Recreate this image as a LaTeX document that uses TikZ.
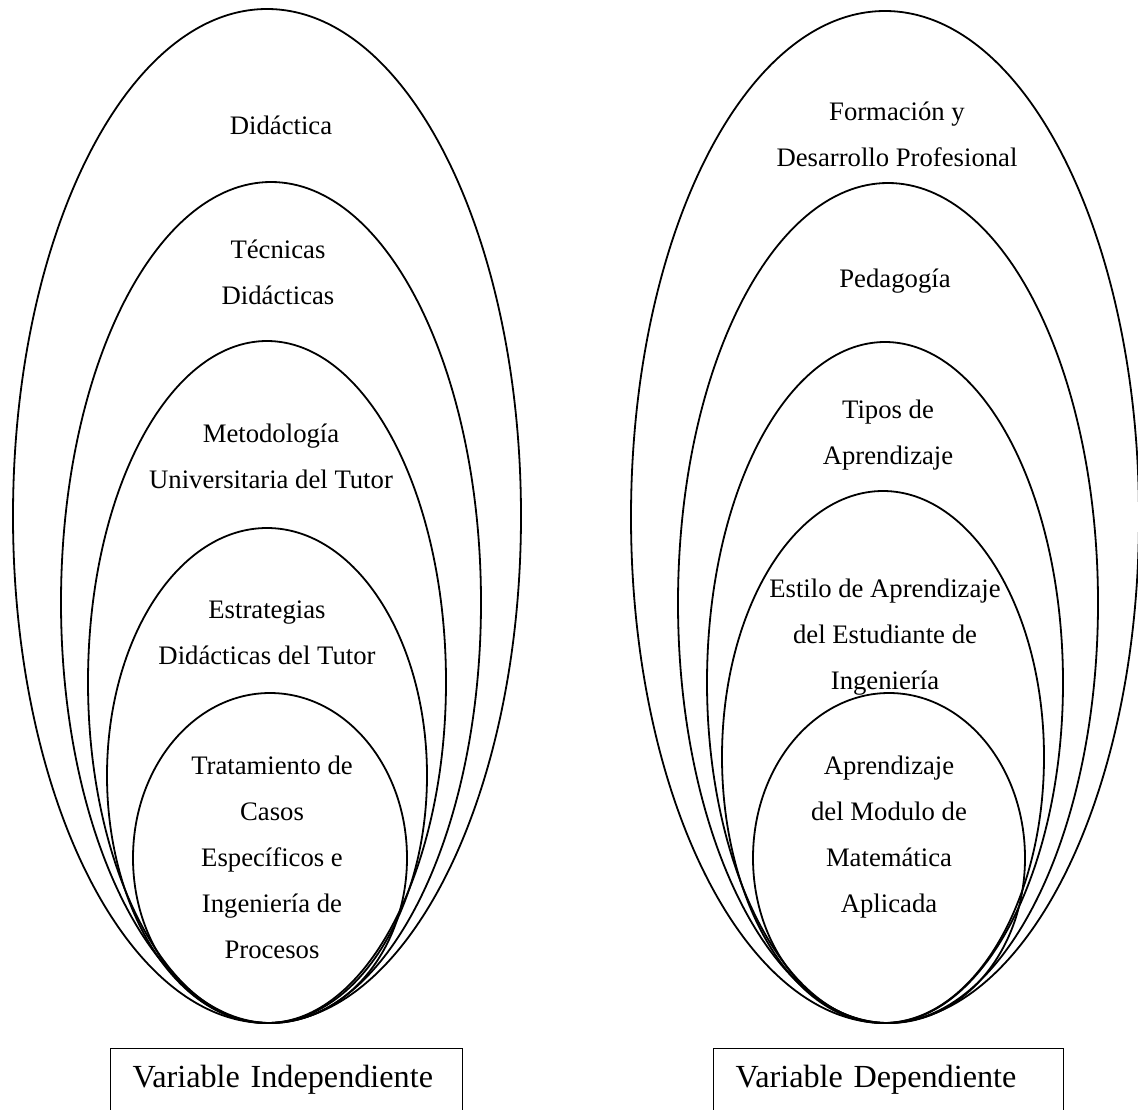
\documentclass[tikz,border=0pt]{standalone}
\usepackage{fontspec}
\setmainfont{Liberation Serif}
\usepackage{tikz}
\tikzset{
  capa/.style={line width=1.8pt},
  etiqueta/.style={align=center,anchor=base,inner sep=0pt,font=\fontsize{26.7}{46}\selectfont},
  cajavar/.style={draw,line width=1.3pt,anchor=north west,align=left,inner xsep=22pt,inner ysep=14pt,text height=25pt,text depth=40pt,font=\fontsize{32.2}{40}\selectfont}
}

\begin{document}
\begin{tikzpicture}[x=1pt,y=-1pt]
        \clip (0,0) rectangle (1138,1109);
        \begin{scope}
          \draw[capa] (267,516) ellipse [x radius=254, y radius=507];
          \draw[capa] (271,602.5) ellipse [x radius=210, y radius=420.5];
          \draw[capa] (267,682) ellipse [x radius=179, y radius=341];
          \draw[capa] (267,775.5) ellipse [x radius=160, y radius=247.5];
          \draw[capa] (270,858) ellipse [x radius=137, y radius=165];
          \node[etiqueta] (didactica) at (281,134) {Didáctica};
          \node[etiqueta] (tecnicas) at (278,304) {Técnicas\\Didácticas};
          \node[etiqueta] (metodologia) at (271,488) {Metodología\\Universitaria del Tutor};
          \node[etiqueta] (estrategias) at (267,664) {Estrategias\\Didácticas del Tutor};
          \node[etiqueta] (tratamiento) at (272,958) {Tratamiento de\\Casos\\Específicos e\\Ingeniería de\\Procesos};
          \node[cajavar,text width=308pt] (vi) at (110,1048) {Variable Independiente};
        \end{scope}
        %%
        \begin{scope}
          \draw[capa] (885,517) ellipse [x radius=254, y radius=506];
          \draw[capa] (888,603) ellipse [x radius=210, y radius=420];
          \draw[capa] (885,682.5) ellipse [x radius=178, y radius=340.5];
          \draw[capa] (883,757) ellipse [x radius=161, y radius=266];
          \draw[capa] (889,858) ellipse [x radius=136, y radius=165];
          \node[etiqueta] (formacion) at (897,166) {Formación y\\Desarrollo Profesional};
          \node[etiqueta] (pedagogia) at (895,287) {Pedagogía};
          \node[etiqueta] (tipos) at (888,464) {Tipos de\\Aprendizaje};
          \node[etiqueta] (estilo) at (885,689) {Estilo de Aprendizaje\\del Estudiante de\\Ingeniería};
          \node[etiqueta] (modulo) at (889,912) {Aprendizaje\\del Modulo de\\Matemática\\Aplicada};
          \node[cajavar,text width=306pt] (vd) at (713,1048) {Variable Dependiente};
        \end{scope}
    \end{tikzpicture}
\end{document}
